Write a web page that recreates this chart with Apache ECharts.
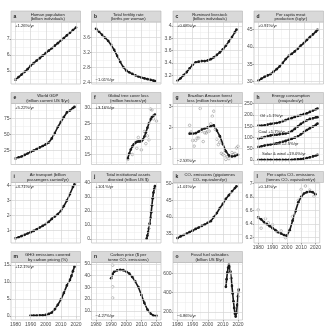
<!DOCTYPE html>
<html><head><meta charset="utf-8">
<script src="https://cdn.jsdelivr.net/npm/echarts@6/dist/echarts.min.js"></script>
<style>html,body{margin:0;padding:0;background:#fff}#c{width:324px;height:327px}</style>
</head><body><div id="c"></div><script>
// ---------- data ----------
const xTickLabels = [1980, 1990, 2000, 2010, 2020];
const xMinorTicks = [1985, 1995, 2005, 2015];
const biYears = [1980,1982,1984,1986,1988,1990,1992,1994,1996,1998,2000,2002,2004,2006,2008,2010,2012,2014,2016,2018,2020];
const biYears19 = [1980,1982,1984,1986,1988,1990,1992,1994,1996,1998,2000,2002,2004,2006,2008,2010,2012,2014,2016,2018,2019];

const popValues = [4.46,4.62,4.78,4.95,5.12,5.33,5.49,5.65,5.80,5.96,6.12,6.27,6.42,6.58,6.74,6.90,7.06,7.23,7.39,7.56,7.71];
const fertValues = [3.83,3.75,3.67,3.59,3.51,3.40,3.27,3.11,2.95,2.81,2.72,2.67,2.63,2.59,2.56,2.53,2.51,2.49,2.47,2.45,2.44];
const ruminantValues = [3.11,3.15,3.20,3.25,3.31,3.37,3.41,3.42,3.43,3.43,3.44,3.46,3.49,3.53,3.57,3.62,3.68,3.75,3.82,3.90,3.94];
const meatValues = [30.3,30.9,31.4,31.8,32.2,32.9,33.6,34.4,35.4,36.5,37.4,38.0,38.7,39.5,40.4,41.1,42.0,42.8,43.6,44.4,44.9];
const gdpValues = [12.5,14.1,15.6,18.0,20.3,22.7,25.0,27.3,29.7,32.0,34.4,37.5,43.8,52.3,61.7,69.5,77.3,84.4,87.5,91.4,93.0];

const treeLineYears = [2001,2002,2003,2004,2005,2006,2007,2008,2009,2010,2011,2012,2013,2014,2015,2016,2017,2018,2019];
const treeLineValues = [13.8,15.3,16.6,17.6,18.3,18.8,19.1,19.2,19.2,19.3,19.8,20.8,22.1,23.6,25.0,26.3,27.1,27.5,27.9];
const treePointYears = [2001,2004,2007,2008,2010,2012,2013,2014,2015,2016,2017,2018,2020];
const treePointValues = [13.4,15.0,17.0,20.5,16.5,22.4,18.5,21.0,19.7,29.7,29.4,26.5,25.8];

const amazonPointYears = [1988,1989,1990,1991,1992,1993,1994,1995,1996,1997,1998,1999,2000,2001,2002,2003,2004,2005,2006,2007,2008,2009,2010,2011,2012,2013,2014,2015,2016,2017,2018,2019,2020];
const amazonPointValues = [2.10,1.78,1.37,1.10,1.38,1.49,1.49,2.91,1.82,1.32,1.74,1.73,1.82,1.82,2.17,2.54,2.78,1.90,1.43,1.17,1.29,0.75,0.70,0.64,0.46,0.59,0.50,0.62,0.79,0.69,0.75,1.01,1.09];
const amazonLineYears = [1988,1990,1992,1994,1996,1998,2000,2002,2004,2006,2008,2010,2012,2014,2016,2018,2020];
const amazonLineValues = [1.70,1.70,1.72,1.80,1.90,1.95,2.00,2.05,2.10,1.85,1.58,1.20,0.85,0.65,0.60,0.62,0.68];

const oilValues = [153,152,154,157,160,162,164,167,172,177,182,186,191,195,199,203,207,213,219,225,228];
const coalValues = [95,98,102,106,109,111,112,114,116,118,121,128,138,149,160,168,176,182,185,189,190];
const gasValues = [58,61,64,67,69,71,74,77,81,85,89,94,99,105,114,124,133,141,148,156,161];
const renewValues = [1,1,1,1,1,1,1,1,1,1,1,1,2,3,4,6,9,12,16,20,23];
const energyLabels = ['Oil +1.1%/yr', 'Coal +1.7%/yr', 'Gas +2.5%/yr', 'Solar & wind +19.0%/yr'];

const airValues = [0.48,0.55,0.63,0.71,0.80,0.88,0.97,1.08,1.20,1.31,1.43,1.58,1.77,1.94,2.10,2.30,2.63,3.00,3.43,3.90,4.07];
const divestYears = [2013.5,2014,2014.5,2015,2015.5,2016,2016.5,2017,2017.5,2018,2018.5,2019];
const divestValues = [0.3,2.5,5,7.5,11,15,19,24,29,33,35.5,37.5];
const co2Values = [33.8,34.3,34.7,35.1,35.6,36.0,36.5,36.9,37.4,37.8,38.3,38.8,40.0,41.2,42.7,43.9,45.4,46.5,47.6,48.6,49.1];
const perCapLineValues = [6.50,6.47,6.43,6.40,6.37,6.34,6.31,6.28,6.26,6.24,6.23,6.31,6.45,6.59,6.72,6.80,6.85,6.87,6.88,6.87,6.84];
const perCapPointYears = [1980,1982,1985,1987,1990,1993,1996,1999,2004,2008,2010,2013,2016,2019];
const perCapPointValues = [6.61,6.34,6.48,6.42,6.39,6.29,6.30,6.20,6.51,6.75,6.91,6.96,6.90,6.81];

const pricingYears = [1990,1992,1994,1996,1998,2000,2002,2004,2006,2008,2010,2012,2014,2016,2017,2018,2019];
const pricingValues = [0.15,0.15,0.15,0.2,0.2,0.3,0.6,1.0,2.0,3.3,4.8,6.8,9.0,10.6,11.8,13.2,14.5];
const priceYears = [1990,1991,1992,1994,1996,1998,2000,2002,2004,2006,2008,2010,2012,2014,2016,2018,2020];
const priceValues = [37.8,41.5,43.4,44.6,45.0,44.7,43.6,41.9,38.9,35.0,30.3,23.5,16.7,11.1,7.7,6.0,5.6];
const pricePointYears = [1991,1991,1991];
const pricePointValues = [49,30.5,21];
const subsidyYears = [2012,2012.5,2013,2013.5,2014,2014.5,2015,2015.5,2016,2016.5,2017,2017.5,2018,2018.5,2019,2019.5,2020,2020.5];
const subsidyValues = [460,540,610,660,690,670,620,550,470,390,310,240,180,150,190,270,360,430];

// ---------- layout ----------
const xMin = 1977, xMax = 2023;
const colLeft = [11, 91.5, 173, 254];
const panelW = 69.5;
const rowTop = [11, 92.5, 171.5, 251.5];
const stripH = 11;
const rowBottom = [84, 164.5, 243, 320];
const FONT = "'Liberation Sans', Arial, sans-serif";

function pairs(xs, ys) { return xs.map((x, i) => [x, ys[i]]); }
function lineS(xs, ys) { return { kind: 'line', data: pairs(xs, ys) }; }
function ptS(xs, ys) { return { kind: 'pt', data: pairs(xs, ys) }; }
const plain = v => String(v);

const panels = [
  {l:'a', t1:'Human population', t2:'(billion individuals)', c:0, r:0, min:4.19, max:8.06, ticks:[5,6,7], minor:[4.5,5.5,6.5,7.5], note:'+1.26%/yr', np:'top', s:[lineS(biYears, popValues)]},
  {l:'b', t1:'Total fertility rate', t2:'(births per woman)', c:1, r:0, min:2.36, max:4.01, ticks:[2.4,2.8,3.2,3.6], minor:[2.6,3.0,3.4,3.8], note:'−1.01%/yr', np:'bottom', s:[lineS(biYears19, fertValues)]},
  {l:'c', t1:'Ruminant livestock', t2:'(billion individuals)', c:2, r:0, min:3.057, max:4.065, ticks:[3.2,3.4,3.6,3.8,4.0], minor:[3.1,3.3,3.5,3.7,3.9], note:'+0.68%/yr', np:'top', s:[lineS(biYears19, ruminantValues)]},
  {l:'d', t1:'Per capita meat', t2:'production (kg/yr)', c:3, r:0, min:29.34, max:47.16, ticks:[30,35,40,45], minor:[32.5,37.5,42.5], note:'+0.91%/yr', np:'top', s:[lineS(biYears19, meatValues)]},
  {l:'e', t1:'World GDP', t2:'(trillion current US $/yr)', c:0, r:1, min:3.1, max:98.4, ticks:[25,50,75], minor:[12.5,37.5,62.5,87.5], note:'+5.22%/yr', np:'top', s:[lineS(biYears19, gdpValues)]},
  {l:'f', t1:'Global tree cover loss', t2:'(million hectares/yr)', c:1, r:1, min:11.77, max:31.45, ticks:[15,20,25,30], minor:[12.5,17.5,22.5,27.5], note:'+3.16%/yr', np:'top', s:[ptS(treePointYears, treePointValues), lineS(treeLineYears, treeLineValues)]},
  {l:'g', t1:'Brazilian Amazon forest', t2:'loss (million hectares/yr)', c:2, r:1, min:0.216, max:3.149, ticks:[1,2,3], minor:[0.5,1.5,2.5], note:'−2.53%/yr', np:'bottom', s:[ptS(amazonPointYears, amazonPointValues), lineS(amazonLineYears, amazonLineValues)]},
  {l:'h', t1:'Energy consumption', t2:'(exajoules/yr)', c:3, r:1, min:-19.9, max:250.5, ticks:[0,50,100,150,200,250], minor:[25,75,125,175,225], note:'', np:'top', s:[lineS(biYears19, oilValues), lineS(biYears19, coalValues), lineS(biYears19, gasValues), lineS(biYears19, renewValues)]},
  {l:'i', t1:'Air transport (billion', t2:'passengers carried/yr)', c:0, r:2, min:0.167, max:4.2, ticks:[1,2,3,4], minor:[0.5,1.5,2.5,3.5], note:'+4.71%/yr', np:'top', s:[lineS(biYears19, airValues)]},
  {l:'j', t1:'Total institutional assets', t2:'divested (trillion US $)', c:1, r:2, min:-2.77, max:40.14, ticks:[0,10,20,30,40], minor:[5,15,25,35], note:'+101%/yr', np:'top', s:[lineS(divestYears, divestValues)]},
  {l:'k', t1:'CO₂ emissions (gigatonnes', t2:'CO₂ equivalent/yr)', c:2, r:2, min:32.34, max:50.24, ticks:[35,40,45,50], minor:[37.5,42.5,47.5], note:'+1.01%/yr', np:'top', s:[lineS(biYears19, co2Values)]},
  {l:'l', t1:'Per capita CO₂ emissions', t2:'(tonnes CO₂ equivalent/yr)', c:3, r:2, min:6.122, max:7.012, ticks:[6.2,6.4,6.6,6.8,7.0], minor:[6.3,6.5,6.7,6.9], note:'+0.14%/yr', np:'top', xl:true, s:[ptS(perCapPointYears, perCapPointValues), lineS(biYears, perCapLineValues)]},
  {l:'m', t1:'GHG emissions covered', t2:'by carbon pricing (%)', c:0, r:3, min:-1.18, max:15.74, ticks:[0,5,10,15], minor:[2.5,7.5,12.5], note:'+12.1%/yr', np:'top', xl:true, s:[lineS(pricingYears, pricingValues)]},
  {l:'n', t1:'Carbon price ($ per', t2:'tonne CO₂ emissions)', c:1, r:3, min:2.14, max:51.28, ticks:[10,20,30,40,50], minor:[5,15,25,35,45], note:'−4.27%/yr', np:'bottom', xl:true, s:[ptS(pricePointYears, pricePointValues), lineS(priceYears, priceValues)]},
  {l:'o', t1:'Fossil fuel subsidies', t2:'(billion US $/yr)', c:2, r:3, min:114.6, max:713.5, ticks:[200,400,600], minor:[300,500,700], note:'−6.86%/yr', np:'bottom', xl:true, s:[lineS(subsidyYears, subsidyValues)]}
];

const grid = [], xAxis = [], yAxis = [], series = [], graphic = [];
const majorLine = {color:'#d6d6d6', width:0.7, type:'solid'};
const minorLine = {color:'#ebebeb', width:0.5, type:'solid'};
const labelStyle = {fontSize:5, color:'#4d4d4d', fontFamily:FONT, formatter:plain};

panels.forEach((p, i) => {
  const left = colLeft[p.c];
  const top = rowTop[p.r] + stripH;
  const h = rowBottom[p.r] - top;
  grid.push({left:left, top:top, width:panelW, height:h, show:true, borderColor:'#b5b5b5', borderWidth:0.6, backgroundColor:'rgba(255,255,255,0)', containLabel:false});
  xAxis.push({gridIndex:i, type:'value', min:xMin, max:xMax, position:'bottom',
    axisLine:{show:false},
    axisTick:{show:!!p.xl, customValues:xTickLabels, length:1.5, lineStyle:{color:'#4d4d4d', width:0.5}},
    axisLabel:Object.assign({show:!!p.xl, customValues:xTickLabels, margin:2}, labelStyle),
    splitLine:{show:false}});
  yAxis.push({gridIndex:i, type:'value', min:p.min, max:p.max, position:'left',
    axisLine:{show:false},
    axisTick:{show:true, customValues:p.ticks, length:1.5, lineStyle:{color:'#4d4d4d', width:0.5}},
    axisLabel:Object.assign({show:true, customValues:p.ticks, margin:1.5}, labelStyle),
    splitLine:{show:false}});
  const gl = [];
  xMinorTicks.forEach(v => gl.push({xAxis:v, lineStyle:minorLine}));
  p.minor.forEach(v => { if (v > p.min && v < p.max) gl.push({yAxis:v, lineStyle:minorLine}); });
  xTickLabels.forEach(v => gl.push({xAxis:v, lineStyle:majorLine}));
  p.ticks.forEach(v => { if (v > p.min && v < p.max) gl.push({yAxis:v, lineStyle:majorLine}); });
  series.push({type:'line', xAxisIndex:i, yAxisIndex:i, data:p.s[0].data, symbol:'none', showSymbol:false,
    lineStyle:{opacity:0}, silent:true, z:1,
    markLine:{silent:true, symbol:['none','none'], label:{show:false}, animation:false, data:gl}});
  p.s.forEach(s => {
    if (s.kind === 'line') {
      series.push({type:'line', xAxisIndex:i, yAxisIndex:i, data:s.data, symbol:'circle', symbolSize:2.7,
        showSymbol:true, lineStyle:{color:'#1a1a1a', width:1.6}, itemStyle:{color:'#1a1a1a'}, silent:true, z:3});
    } else {
      series.push({type:'scatter', xAxisIndex:i, yAxisIndex:i, data:s.data, symbol:'circle', symbolSize:2.6,
        itemStyle:{color:'rgba(255,255,255,0)', borderColor:'#666', borderWidth:0.5}, silent:true, z:2});
    }
  });
  graphic.push({type:'rect', shape:{x:left, y:rowTop[p.r], width:panelW, height:stripH},
    style:{fill:'#d9d9d9', stroke:'#b5b5b5', lineWidth:0.6}, z:10});
  graphic.push({type:'text', x:left + 2.5, y:rowTop[p.r] + stripH/2,
    style:{text:p.l, font:'bold 5px ' + FONT, fill:'#1a1a1a', verticalAlign:'middle', align:'left'}, z:11});
  graphic.push({type:'text', x:left + panelW/2 + 2, y:rowTop[p.r] + stripH/2 + 0.3,
    style:{text:p.t1 + '\n' + p.t2, font:'4.2px ' + FONT, lineHeight:4.7, fill:'#1a1a1a', verticalAlign:'middle', align:'center'}, z:11});
  if (p.note) {
    graphic.push({type:'text', x:left + 4, y: p.np === 'top' ? top + 4 : rowBottom[p.r] - 4,
      style:{text:p.note, font:'4.2px ' + FONT, fill:'#1a1a1a', verticalAlign:'middle', align:'left'}, z:11});
  }
});

const hLeft = colLeft[3];
const hLabelPos = [[hLeft + 6, 115.5], [hLeft + 4.5, 131.5], [hLeft + 19, 143.5], [hLeft + 8, 154]];
energyLabels.forEach((t, k) => {
  graphic.push({type:'text', x:hLabelPos[k][0], y:hLabelPos[k][1],
    style:{text:t, font:'4.2px ' + FONT, fill:'#1a1a1a', verticalAlign:'middle', align:'left'}, z:11});
});

const chart = echarts.init(document.getElementById('c'), null, {renderer:'canvas'});
chart.setOption({animation:false, backgroundColor:'#fff', grid, xAxis, yAxis, series, graphic});
</script></body></html>
